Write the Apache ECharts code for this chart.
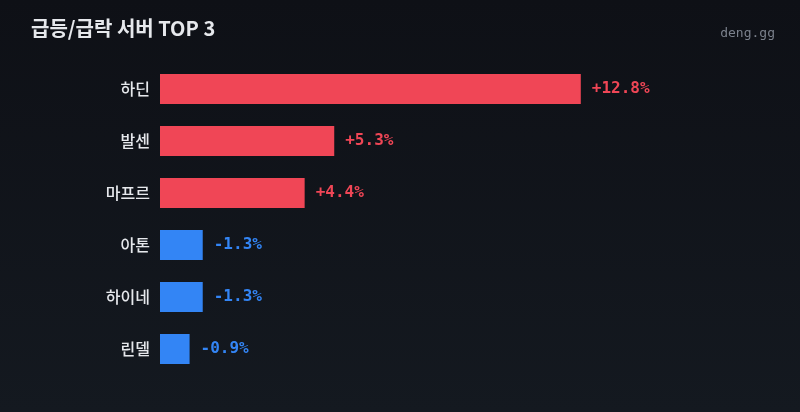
<!DOCTYPE html>
<html>
<head>
<meta charset="utf-8">
<script src="https://cdn.jsdelivr.net/npm/echarts@6/dist/echarts.min.js"></script>
<style>
  html, body { margin: 0; padding: 0; }
  body { background: linear-gradient(180deg, #0e1016 0%, #141920 100%); }
  #main { width: 800px; height: 412px; }
</style>
</head>
<body>
<div id="main"></div>
<script>
// servers with the biggest moves, top to bottom
const servers = ["하딘", "발센", "마프르", "아톤", "하이네", "린델"];
const changes = [12.8, 5.3, 4.4, -1.3, -1.3, -0.9];

const UP = "#f04656";
const DOWN = "#3385f5";
const MONO = "'DejaVu Sans Mono', monospace";

var chart = echarts.init(document.getElementById("main"));

const bars = changes.map(function (v) {
  return {
    value: Math.abs(v),
    change: v,
    itemStyle: { color: v >= 0 ? UP : DOWN },
    label: { color: v >= 0 ? UP : DOWN },
  };
});

var option = {
  backgroundColor: "transparent",
  title: [
    {
      text: "급등/급락 서버 TOP 3",
      left: 26,
      top: 13,
      textStyle: {
        color: "#e6e8ec",
        fontSize: 20,
        fontWeight: "bold",
        fontFamily: "'Noto Sans CJK KR', sans-serif",
      },
    },
    {
      text: "deng.gg",
      right: 20,
      top: 22,
      textStyle: {
        color: "#7b818c",
        fontSize: 13,
        fontWeight: "normal",
        fontFamily: MONO,
      },
    },
  ],
  grid: { left: 160, right: 114, top: 63, bottom: 37, containLabel: false },
  xAxis: {
    type: "value",
    min: 0,
    max: 16,
    show: false,
  },
  yAxis: {
    type: "category",
    inverse: true,
    data: servers,
    axisLine: { show: false },
    axisTick: { show: false },
    splitLine: { show: false },
    axisLabel: {
      color: "#e6e8ec",
      fontSize: 16,
      fontWeight: 500,
      margin: 10,
      fontFamily: "'Noto Sans CJK KR', sans-serif",
    },
  },
  series: [
    {
      type: "bar",
      data: bars,
      barWidth: 30,
      animation: false,
      label: {
        show: true,
        position: "right",
        distance: 11,
        fontSize: 16,
        fontWeight: "bold",
        fontFamily: MONO,
        formatter: function (p) {
          const v = p.data.change;
          return (v >= 0 ? "+" : "") + v.toFixed(1) + "%";
        },
      },
    },
  ],
};

chart.setOption(option);
</script>
</body>
</html>
